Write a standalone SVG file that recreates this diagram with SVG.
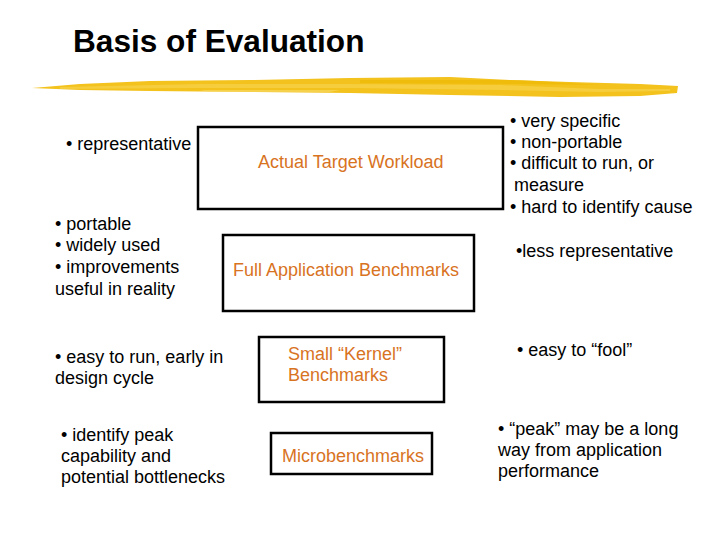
<svg xmlns="http://www.w3.org/2000/svg" width="720" height="540" viewBox="0 0 720 540">
  <style>
    .t { font-family: "Liberation Sans", Arial, sans-serif; font-size: 18px; fill: #000; }
    .o { font-family: "Liberation Sans", Arial, sans-serif; font-size: 18px; fill: #D8731F; }
    .box { fill: #fff; stroke: #000; stroke-width: 2.5; }
    .title { font-family: "Liberation Sans", Arial, sans-serif; font-size: 31.6px; font-weight: bold; fill: #000; }
  </style>
  <rect width="720" height="540" fill="#fff"/>
  <g id="title">
    <text class="title" x="73" y="52">Basis of Evaluation</text>
  </g>
  <g id="brush">
    <path d="M32,88 L80,84 L150,81 L250,80 L350,78 L450,77 L510,80 L570,82 L640,84 L678,86 L677,93 L640,96 L560,97 L450,95 L350,93 L250,92 L150,91 L80,90 Z" fill="#F3C21C"/>
    <path d="M60,87 L200,84 L350,84 L500,85 L600,89 L670,89 L670,91 L600,92 L500,90 L350,88 L200,88 L60,89 Z" fill="#F7D24A" opacity="0.7"/>
    <path d="M360,80 L520,80 L600,85 L520,84 L360,83 Z" fill="#EFB700" opacity="0.6"/>
    <path d="M200,90 L340,90 L330,92 L210,92 Z" fill="#F8DA6A" opacity="0.6"/>
  </g>
  <g id="node-actual">
    <rect class="box" x="198" y="127" width="305" height="82"/>
    <text class="o" x="258" y="168">Actual Target Workload</text>
  </g>
  <g id="node-full">
    <rect class="box" x="223" y="235" width="251" height="76"/>
    <text class="o" x="233" y="276">Full Application Benchmarks</text>
  </g>
  <g id="node-kernel">
    <rect class="box" x="259" y="337" width="185" height="65"/>
    <text class="o" x="288" y="360">Small “Kernel”</text>
    <text class="o" x="288" y="381">Benchmarks</text>
  </g>
  <g id="node-micro">
    <rect class="box" x="271" y="433" width="161" height="41"/>
    <text class="o" x="282" y="462">Microbenchmarks</text>
  </g>
  <g id="connectors"></g>
  <g id="notes-left">
    <text class="t" x="66" y="150">• representative</text>
    <text class="t" x="55" y="230">• portable</text>
    <text class="t" x="55" y="251">• widely used</text>
    <text class="t" x="55" y="273">• improvements</text>
    <text class="t" x="55" y="295">useful in reality</text>
    <text class="t" x="55" y="363">• easy to run, early in</text>
    <text class="t" x="55" y="384">design cycle</text>
    <text class="t" x="61" y="441">• identify peak</text>
    <text class="t" x="61" y="462">capability and</text>
    <text class="t" x="61" y="483">potential bottlenecks</text>
  </g>
  <g id="notes-right">
    <text class="t" x="510" y="127">• very specific</text>
    <text class="t" x="510" y="148">• non-portable</text>
    <text class="t" x="510" y="169">• difficult to run, or</text>
    <text class="t" x="514" y="191">measure</text>
    <text class="t" x="510" y="213">• hard to identify cause</text>
    <text class="t" x="516" y="257">•less representative</text>
    <text class="t" x="517" y="356">• easy to “fool”</text>
    <text class="t" x="498" y="435">• “peak” may be a long</text>
    <text class="t" x="498" y="456">way from application</text>
    <text class="t" x="498" y="477">performance</text>
  </g>
</svg>
